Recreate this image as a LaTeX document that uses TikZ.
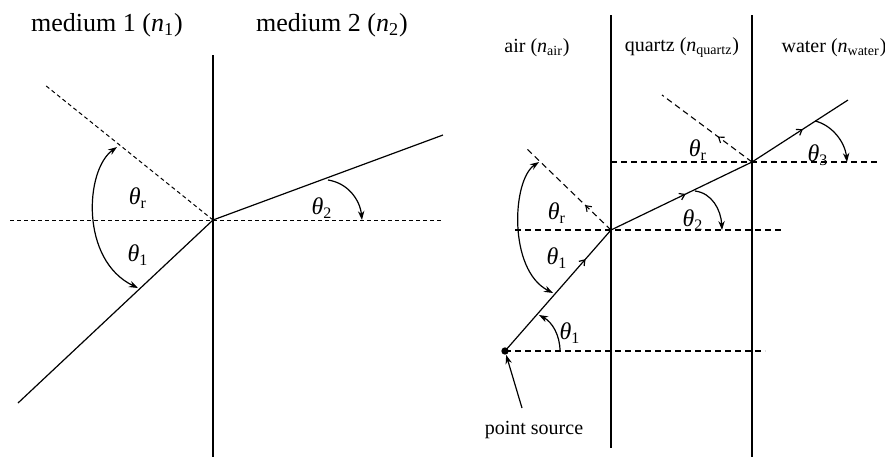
\documentclass[tikz,border=0pt]{standalone}
\usepackage{fontspec}
\setmainfont{Liberation Serif}
\usetikzlibrary{arrows.meta,decorations.markings}

\newcommand{\thlab}[1]{\textit{θ}\textsubscript{#1}}
\newcommand{\nidx}[1]{\textit{n}\textsubscript{#1}}

\begin{document}
\begin{tikzpicture}[x=0.5pt, y=-0.5pt,
      wall/.style={line width=0.6pt},
      ray/.style={line width=0.6pt},
      guide/.style={line width=0.5pt, dash pattern=on 2pt off 1.5pt},
      longguide/.style={line width=0.55pt, dash pattern=on 3pt off 2pt},
      angarr/.style={line width=0.6pt, -{Stealth[length=4.5pt,width=3.2pt]}},
      angboth/.style={line width=0.6pt, {Stealth[length=4.5pt,width=3.2pt]}-{Stealth[length=4.5pt,width=3.2pt]}},
      midarr/.style={postaction={decorate}, decoration={markings,
                     mark=at position #1 with {\arrow{Straight Barb[length=2.5pt,width=3.5pt]}}}},
      biglab/.style={font=\fontsize{13}{15}\selectfont},
      smalllab/.style={font=\fontsize{10}{12}\selectfont},
      anglab/.style={font=\fontsize{12}{14}\selectfont}
    ]
      \useasboundingbox (0,0) rectangle (885,457);

      % single interface
      \coordinate (o1) at (213,220);
      \coordinate (wtop) at (213,55);
      \coordinate (wbot) at (213,457);
      \coordinate (inc) at (18,403);
      \coordinate (refl) at (45,85);
      \coordinate (trans) at (443,135);
      \node[biglab] (med1) at (107,25) {medium 1 (\nidx{1})};
      \node[biglab] (med2) at (332,25) {medium 2 (\nidx{2})};

      \draw[wall] (wtop) -- (wbot);
      \draw[guide] (10,220) -- (443,220);
      \draw[guide] (o1) -- (refl);
      \draw[ray] (inc) -- (o1) -- (trans);
      \draw[angboth] (117,147) .. controls (85,170) and (80,260) .. (138,288);
      \draw[angarr] (328,180) .. controls (348,183) and (360,200) .. (362,220);
      \node[anglab] (thr) at (138,198) {\thlab{r}};
      \node[anglab] (th1) at (138,255) {\thlab{1}};
      \node[anglab] (th2) at (322,208) {\thlab{2}};

      % air / quartz / water
      \coordinate (o2) at (611,230);
      \coordinate (o3) at (752,162);
      \coordinate (refla) at (525,147);
      \coordinate (reflb) at (662,95);
      \coordinate (out) at (848,100);
      \node[circle, fill, inner sep=1.3pt] (src) at (505,351) {};
      \node[smalllab] (air) at (537,48) {air (\nidx{air})};
      \node[smalllab] (qtz) at (682,48) {quartz (\nidx{quartz})};
      \node[smalllab] (wat) at (834,48) {water (\nidx{water})};
      \node[smalllab] (srclab) at (534,430) {point source};

      \draw[wall] (611,15) -- (611,448);
      \draw[wall] (752,15) -- (752,457);
      \draw[longguide] (src.center) -- (765,351);
      \draw[longguide] (515,230) -- (783,230);
      \draw[longguide] (611,162) -- (878,162);
      \draw[longguide, midarr=0.3] (o2) -- (refla);
      \draw[longguide, midarr=0.38] (o3) -- (reflb);
      \draw[ray, midarr=0.76] (src.center) -- (o2);
      \draw[ray, midarr=0.53] (o2) -- (o3);
      \draw[ray, midarr=0.53] (o3) -- (out);
      \draw[angarr] (522,408) -- (src);

      \draw[angboth] (539,162) .. controls (512,180) and (508,270) .. (553,293);
      \draw[angarr] (560,351) .. controls (560,335) and (552,322) .. (539,315);
      \draw[angarr] (695,191) .. controls (712,193) and (721,210) .. (722,230);
      \draw[angarr] (815,121) .. controls (832,125) and (845,142) .. (847,162);
      \node[anglab] (thra) at (557,213) {\thlab{r}};
      \node[anglab] (th1a) at (557,258) {\thlab{1}};
      \node[anglab] (th1b) at (570,333) {\thlab{1}};
      \node[anglab] (th2a) at (693,220) {\thlab{2}};
      \node[anglab] (thrb) at (698,150) {\thlab{r}};
      \node[anglab] (th3) at (818,155) {\thlab{3}};
    \end{tikzpicture}
\end{document}
